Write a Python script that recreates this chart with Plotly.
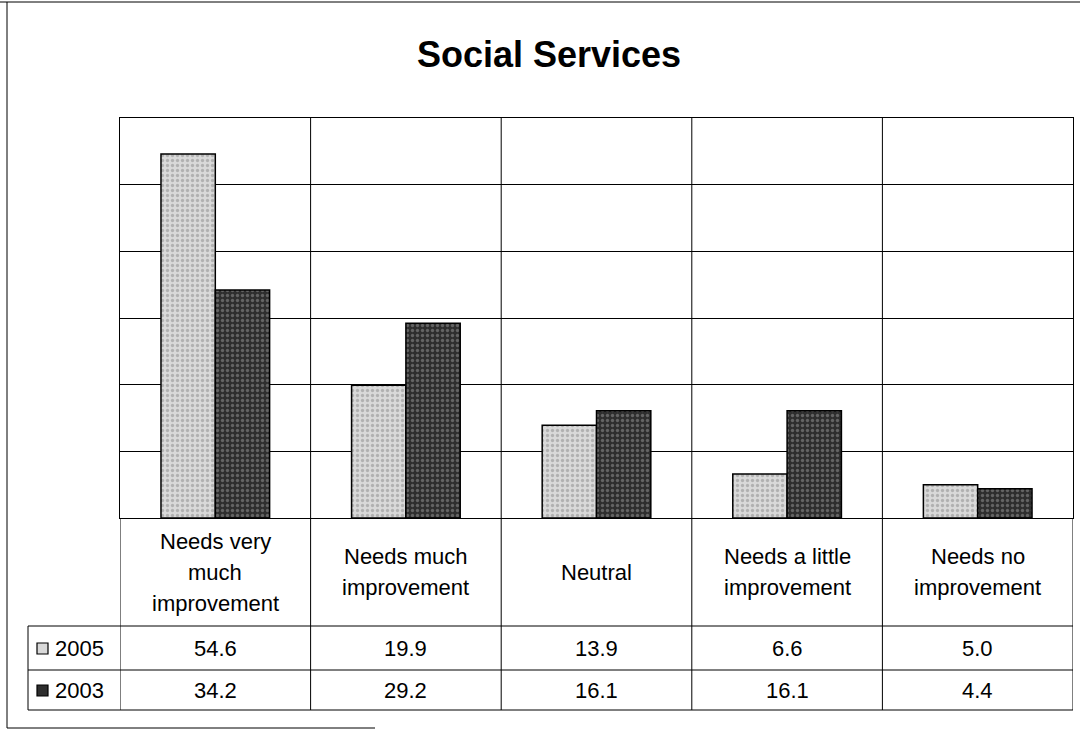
import plotly.graph_objects as go

# Survey results: rating of social services, percent of respondents
categories = [
    "Needs very<br>much<br>improvement",
    "Needs much<br>improvement",
    "Neutral",
    "Needs a little<br>improvement",
    "Needs no<br>improvement",
]
years = ["2005", "2003"]
values_2005 = [54.6, 19.9, 13.9, 6.6, 5.0]
values_2003 = [34.2, 29.2, 16.1, 16.1, 4.4]
y_ticks = [0, 10, 20, 30, 40, 50, 60]

W, H = 1080, 731
FONT = "Liberation Sans, Arial, sans-serif"


def px(x):
    return x / W


def py(y):
    return 1 - y / H


# plot area and data-table geometry in page pixels
PLOT_L, PLOT_R, PLOT_T, PLOT_B = 120, 1073, 118, 518
ROW1_T, ROW2_T, TABLE_B = 626, 670, 710
LEG_L = 28

styles = {
    "2005": dict(bg="#d9d9d9", fg="#8a8a8a"),
    "2003": dict(bg="#2e2e2e", fg="#9a9a9a"),
}

fig = go.Figure()
for name, vals in zip(years, [values_2005, values_2003]):
    st = styles[name]
    fig.add_trace(go.Bar(
        x=list(range(len(categories))),
        y=vals,
        name=name,
        marker=dict(
            color=st["bg"],
            line=dict(color="#000000", width=1.5),
            pattern=dict(shape=".", fgcolor=st["fg"], bgcolor=st["bg"],
                         size=5, solidity=0.35, fillmode="overlay"),
        ),
        showlegend=False,
    ))

shapes = []
annotations = []

# outer chart frame
line = dict(color="#000000", width=1)
shapes.append(dict(type="line", xref="paper", yref="paper",
                   x0=px(0), x1=px(1080), y0=py(2), y1=py(2), line=line))
shapes.append(dict(type="line", xref="paper", yref="paper",
                   x0=px(7), x1=px(7), y0=py(2), y1=py(728), line=line))
shapes.append(dict(type="line", xref="paper", yref="paper",
                   x0=px(7), x1=px(375), y0=py(728), y1=py(728), line=line))

# data table: horizontal rules
for yy in (ROW1_T, ROW2_T, TABLE_B):
    shapes.append(dict(type="line", xref="paper", yref="paper",
                       x0=px(LEG_L), x1=px(PLOT_R), y0=py(yy), y1=py(yy), line=line))
# data table: column rules at category boundaries
for i in range(len(categories) + 1):
    shapes.append(dict(type="line", xref="x", yref="paper",
                       x0=i - 0.5, x1=i - 0.5, y0=py(PLOT_B), y1=py(TABLE_B), line=line))
shapes.append(dict(type="line", xref="paper", yref="paper",
                   x0=px(LEG_L), x1=px(LEG_L), y0=py(ROW1_T), y1=py(TABLE_B), line=line))

TEXT_SIZE = 22

# category header cells, one line of text per row
header_mid = (PLOT_B + ROW1_T) / 2
line_gap = 31
for i, cat in enumerate(categories):
    parts = cat.split("<br>")
    n = len(parts)
    for k, part in enumerate(parts):
        yy = header_mid + (k - (n - 1) / 2) * line_gap
        annotations.append(dict(
            x=i, xref="x", y=py(yy), yref="paper", text=part,
            showarrow=False, xanchor="center", yanchor="middle",
            font=dict(family=FONT, size=TEXT_SIZE, color="#000000")))

# value rows with legend keys
row_mids = [(ROW1_T + ROW2_T) / 2, (ROW2_T + TABLE_B) / 2]
for name, vals, ym in zip(years, [values_2005, values_2003], row_mids):
    st = styles[name]
    for i, v in enumerate(vals):
        annotations.append(dict(
            x=i, xref="x", y=py(ym), yref="paper", text=f"{v:.1f}",
            showarrow=False, xanchor="center", yanchor="middle",
            font=dict(family=FONT, size=TEXT_SIZE, color="#000000")))
    shapes.append(dict(type="rect", xref="paper", yref="paper",
                       x0=px(37), x1=px(48), y0=py(ym - 5), y1=py(ym + 6),
                       fillcolor=st["bg"], line=dict(color="#000000", width=1.2)))
    annotations.append(dict(
        x=px(53), xref="paper", y=py(ym), yref="paper", text=name,
        showarrow=False, xanchor="left", yanchor="middle",
        font=dict(family=FONT, size=TEXT_SIZE, color="#000000")))

fig.update_layout(
    width=W, height=H,
    margin=dict(l=0, r=0, t=0, b=0),
    paper_bgcolor="#ffffff",
    plot_bgcolor="#ffffff",
    barmode="group",
    bargap=0.43,
    bargroupgap=0.0,
    title=dict(text="<b>Social Services</b>", x=px(549), xanchor="center",
               y=py(54), yanchor="middle",
               font=dict(family=FONT, size=36, color="#000000")),
    xaxis=dict(
        domain=[px(PLOT_L), px(PLOT_R)],
        range=[-0.5, len(categories) - 0.5],
        tickvals=list(range(len(categories) + 1)),
        showticklabels=False, ticks="",
        showgrid=False, zeroline=False,
        showline=True, mirror=True, linecolor="#000000", linewidth=1,
    ),
    yaxis=dict(
        domain=[py(PLOT_B), py(PLOT_T)],
        range=[y_ticks[0], y_ticks[-1]],
        tickvals=y_ticks,
        showticklabels=False, ticks="",
        showgrid=True, gridcolor="#000000", gridwidth=1, zeroline=False,
        showline=True, mirror=True, linecolor="#000000", linewidth=1,
    ),
    shapes=shapes,
    annotations=annotations,
)

# vertical grid between categories inside the plot area
for i in range(1, len(categories)):
    fig.add_shape(type="line", xref="x", yref="paper",
                  x0=i - 0.5, x1=i - 0.5, y0=py(PLOT_B), y1=py(PLOT_T),
                  line=dict(color="#000000", width=1), layer="below")

fig.write_html("out.html")
